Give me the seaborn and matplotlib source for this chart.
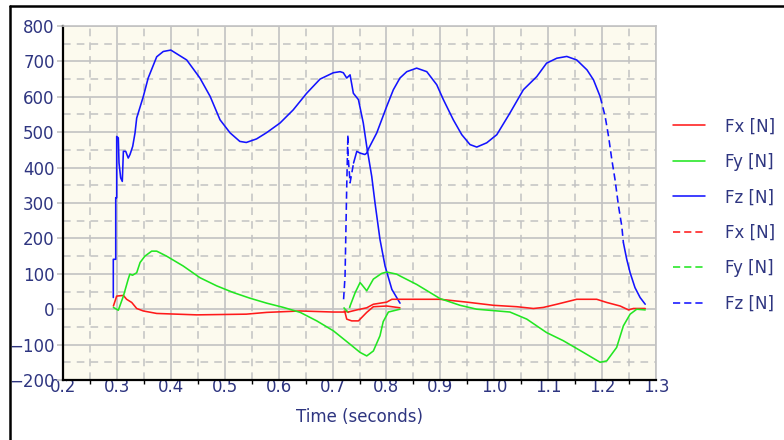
import seaborn as sns
import matplotlib.pyplot as plt
from matplotlib.lines import Line2D
from matplotlib.ticker import MultipleLocator, FormatStrFormatter

# first foot (solid)
fz_a_t = [0.2933, 0.2933, 0.2978, 0.2978, 0.2996, 0.2996, 0.3026, 0.3039, 0.307, 0.310, 0.312, 0.3163,
          0.321, 0.3243, 0.3293, 0.3336, 0.3367, 0.349, 0.358, 0.3738, 0.386, 0.400, 0.4295, 0.454, 0.473,
          0.4913, 0.51, 0.528, 0.54, 0.559, 0.578, 0.6026, 0.627, 0.652, 0.6768, 0.7015, 0.714, 0.720,
          0.7263, 0.7325, 0.7386, 0.748, 0.757, 0.7634, 0.7727, 0.7788, 0.788, 0.7974, 0.810, 0.8252]
fz_a_v = [33, 141, 141, 315, 315, 488, 484, 413, 371, 361, 446, 446,
          427, 437, 460, 498, 540, 601, 653, 713, 728, 732, 704, 653, 601,
          535, 498, 474, 471, 481, 499, 526, 563, 610, 650, 668, 671, 668,
          653, 662, 610, 592, 526, 460, 375, 300, 197, 122, 56, 17]

fy_a_t = [0.2935, 0.3026, 0.312, 0.321, 0.324, 0.329, 0.3367, 0.343, 0.352, 0.3645, 0.3738, 0.392, 0.423,
          0.454, 0.485, 0.516, 0.547, 0.578, 0.609, 0.64, 0.6707, 0.7015, 0.7325, 0.751, 0.7634, 0.7757,
          0.788, 0.794, 0.8036, 0.825]
fy_a_v = [5, -3, 37, 85, 99, 96, 103, 132, 150, 164, 164, 150, 122,
          89, 66, 47, 31, 17, 5, -9, -33, -61, -99, -122, -132, -118,
          -75, -35, -8, 0]

fx_a_t = [0.2935, 0.2996, 0.312, 0.318, 0.3275, 0.3367, 0.349, 0.3738, 0.448, 0.54, 0.578, 0.64, 0.7015,
          0.723, 0.7263, 0.7355, 0.748, 0.7634, 0.7757, 0.8005, 0.825]
fx_a_v = [9, 37, 39, 28, 19, 2, -5, -12, -16, -14, -9, -5, -8,
          -8, -28, -33, -33, -9, 7, 9, 4]

# second foot: dashed parts
fz_b_dash1_t = [0.7205, 0.7232, 0.7263, 0.7285, 0.7280, 0.7325, 0.739]
fz_b_dash1_v = [28, 94, 347, 493, 451, 357, 413]
fz_b_dash2_t = [1.1963, 1.2056, 1.212, 1.218, 1.224, 1.2305, 1.2365, 1.2395]
fz_b_dash2_v = [601, 545, 488, 423, 366, 291, 235, 188]
fy_b_dash_t = [0.7205, 0.7232, 0.7293, 0.7325]
fy_b_dash_v = [5, 0, -9, 9]
fx_b_dash_t = [0.7205, 0.729]
fx_b_dash_v = [-5, -8]

# second foot: solid parts
fz_b_t = [0.739, 0.745, 0.751, 0.760, 0.7634, 0.766, 0.782, 0.8005, 0.8128, 0.825, 0.8377, 0.856, 0.8748,
          0.8933, 0.9056, 0.924, 0.9397, 0.955, 0.9675, 0.986, 1.0047, 1.029, 1.054, 1.0788, 1.097, 1.116,
          1.1345, 1.153, 1.172, 1.184, 1.1963]
fz_b_v = [413, 446, 441, 437, 441, 451, 498, 573, 620, 653, 671, 681, 671,
          634, 592, 535, 493, 465, 458, 470, 493, 554, 620, 657, 695, 709,
          714, 704, 676, 648, 601]
fz_b_tail_t = [1.2395, 1.2457, 1.252, 1.261, 1.2705, 1.28]
fz_b_tail_v = [188, 141, 103, 61, 33, 14]

fy_b_t = [0.7325, 0.742, 0.751, 0.754, 0.7634, 0.7757, 0.791, 0.8005, 0.819, 0.825, 0.856, 0.8994, 0.9365,
          0.9675, 1.029, 1.0603, 1.097, 1.128, 1.1653, 1.1963, 1.2087, 1.227, 1.2395, 1.252, 1.2643, 1.28]
fy_b_v = [9, 47, 75, 70, 52, 85, 101, 105, 99, 94, 70, 30, 11,
          0, -8, -28, -66, -89, -122, -150, -146, -108, -47, -14, 0, -2]

fx_b_t = [0.729, 0.745, 0.7634, 0.7757, 0.8005, 0.81, 0.8377, 0.8994, 0.949, 0.9985, 1.042, 1.0726, 1.091,
          1.116, 1.153, 1.19, 1.2087, 1.2335, 1.249, 1.258, 1.28]
fx_b_v = [-8, -2, 4, 14, 20, 28, 28, 28, 20, 11, 7, 2, 5,
          14, 28, 28, 19, 9, -2, 2, 2]

labels = ['Fx [N]', 'Fy [N]', 'Fz [N]', 'Fx [N]', 'Fy [N]', 'Fz [N]']

RED, GREEN, BLUE = '#ff1a1a', '#22e622', '#1414ff'
NAVY = '#2e3580'
GRID = '#c2c2c2'
DASH = (4.5, 2.5)
LW = 1.15

sns.set_style('white')
plt.rcParams['font.family'] = ['DejaVu Sans']

fig = plt.figure(figsize=(7.84, 4.4), dpi=100)
ax = fig.add_axes([63 / 784, 1 - 380 / 440, (656 - 63) / 784, (380 - 26) / 440])
ax.set_facecolor('#fcfaee')


def draw(t, v, color, dashed=False):
    kw = dict(dashes=DASH) if dashed else {}
    sns.lineplot(x=t, y=v, sort=False, estimator=None, color=color, linewidth=LW, ax=ax, **kw)


draw(fx_a_t, fx_a_v, RED)
draw(fy_a_t, fy_a_v, GREEN)
draw(fz_a_t, fz_a_v, BLUE)
draw(fx_b_dash_t, fx_b_dash_v, RED, True)
draw(fy_b_dash_t, fy_b_dash_v, GREEN, True)
draw(fz_b_dash1_t, fz_b_dash1_v, BLUE, True)
draw(fz_b_dash2_t, fz_b_dash2_v, BLUE, True)
draw(fx_b_t, fx_b_v, RED)
draw(fy_b_t, fy_b_v, GREEN)
draw(fz_b_t, fz_b_v, BLUE)
draw(fz_b_tail_t, fz_b_tail_v, BLUE)

ax.set_xlim(0.2, 1.3)
ax.set_ylim(-200, 800)
ax.xaxis.set_major_locator(MultipleLocator(0.1))
ax.xaxis.set_minor_locator(MultipleLocator(0.05))
ax.yaxis.set_major_locator(MultipleLocator(100))
ax.yaxis.set_minor_locator(MultipleLocator(50))
ax.xaxis.set_major_formatter(FormatStrFormatter('%.1f'))

ax.grid(which='major', color=GRID, linewidth=1.2, linestyle='-')
ax.grid(which='minor', color=GRID, linewidth=1.1, linestyle=(0, (5, 4)))
ax.set_axisbelow(True)

for side in ['left', 'bottom']:
    ax.spines[side].set_color('black')
    ax.spines[side].set_linewidth(1.6)
for side in ['top', 'right']:
    ax.spines[side].set_color(GRID)
    ax.spines[side].set_linewidth(1.2)

ax.tick_params(axis='x', which='major', length=0, pad=-1.5, labelsize=12, labelcolor=NAVY)
ax.tick_params(axis='x', which='minor', bottom=True, length=3, width=1, color='black')
ax.tick_params(axis='y', which='major', left=True, length=4, width=1.2, color=GRID,
               pad=2, labelsize=12, labelcolor=NAVY)
ax.tick_params(axis='y', which='minor', left=False)

ax.set_xlabel('Time (seconds)', fontsize=12, color=NAVY, labelpad=9)
ax.set_ylabel('')

colors = [RED, GREEN, BLUE]
handles = [Line2D([], [], color=c, lw=LW) for c in colors]
handles += [Line2D([], [], color=c, lw=LW, dashes=DASH) for c in colors]
fig.legend(handles, labels, loc='center left', bbox_to_anchor=(673 / 784, 1 - 215 / 440),
           frameon=False, fontsize=12, labelcolor=NAVY, handlelength=1.9, handletextpad=1.2,
           labelspacing=1.05, borderpad=0, borderaxespad=0)

# screenshot frame
fig.add_artist(Line2D([10 / 784, 1], [1 - 6 / 440, 1 - 6 / 440], color='black', lw=1.8))
fig.add_artist(Line2D([10 / 784, 10 / 784], [0, 1 - 6 / 440], color='black', lw=1.8))

fig.savefig('out.png', dpi=100)
